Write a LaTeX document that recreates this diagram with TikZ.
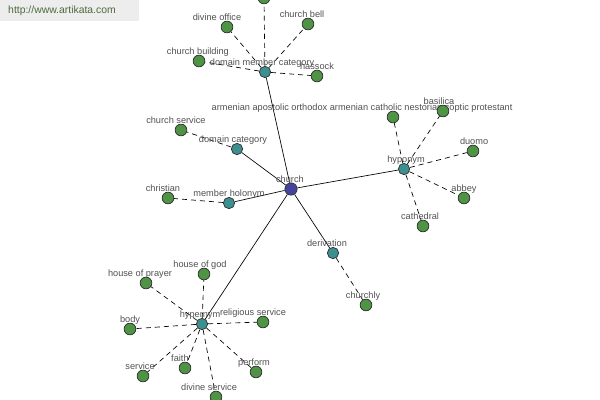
\documentclass[tikz,border=0pt]{standalone}
\usepackage{fontspec}
\setmainfont{Liberation Sans}
\usetikzlibrary{backgrounds}
\definecolor{leafgreen}{HTML}{4E9444}
\definecolor{relteal}{HTML}{3C9090}
\definecolor{hubblue}{HTML}{44449C}
\definecolor{lblgray}{HTML}{505050}
\definecolor{sitegreen}{HTML}{4C6A3C}

\begin{document}
\begin{tikzpicture}[x=0.75pt,y=-0.75pt,
  leaf/.style={circle,draw=black!80,line width=0.55pt,fill=leafgreen,inner sep=0pt,minimum size=8.8pt,label distance=1.2pt},
  rel/.style={leaf,fill=relteal,minimum size=8.5pt},
  hub/.style={leaf,fill=hubblue,minimum size=9.2pt},
  lbl/.style={text=lblgray,font=\fontsize{6.9}{8}\selectfont,inner sep=0pt,text depth=0pt},
  link/.style={draw=black,line width=0.5pt},
  sub/.style={link,dash pattern=on 3.8pt off 3pt}]
\useasboundingbox (0,0) rectangle (600,400);
\fill[black!7] (0,0) rectangle (139,21);
\node[text=sitegreen,font=\fontsize{7.8}{9}\selectfont,inner sep=0pt] (site) at (62,11) {http://www.artikata.com};

\node[hub,label={[lbl,xshift=-0.8]above:church}] (church) at (291,189) {};

\node[rel,label={[lbl,xshift=-2.2]above:domain member category}] (dommem) at (265,72) {};
\node[leaf] (topleaf) at (264,-2) {};
\node[leaf,label={[lbl,xshift=-7.5]above:divine office}] (divoffice) at (227,27) {};
\node[leaf,label={[lbl,xshift=-4.5]above:church bell}] (bell) at (308,24) {};
\node[leaf,label={[lbl,xshift=-0.8]above:church building}] (building) at (199,61) {};
\node[leaf,label={[lbl]above:hassock}] (hassock) at (317,76) {};

\node[rel,label={[lbl,xshift=-3]above:domain category}] (domcat) at (237,149) {};
\node[leaf,label={[lbl,xshift=-3.8]above:church service}] (chservice) at (181,130) {};

\node[rel,label={[lbl]above:member holonym}] (holonym) at (229,203) {};
\node[leaf,label={[lbl,xshift=-3.8]above:christian}] (christian) at (168,198) {};

\node[rel,label={[lbl,xshift=1.5]above:hyponym}] (hyponym) at (404,169) {};
\node[leaf,label={[lbl,xshift=-23.2]above:armenian apostolic orthodox armenian catholic nestorian coptic protestant}] (armenian) at (393,117) {};
\node[leaf,label={[lbl,xshift=-3]above:basilica}] (basilica) at (443,111) {};
\node[leaf,label={[lbl,xshift=0.8]above:duomo}] (duomo) at (473,151) {};
\node[leaf,label={[lbl]above:abbey}] (abbey) at (464,198) {};
\node[leaf,label={[lbl,xshift=-2.2]above:cathedral}] (cathedral) at (423,226) {};

\node[rel,label={[lbl,xshift=-4.5]above:derivation}] (derivation) at (333,253) {};
\node[leaf,label={[lbl,xshift=-2.2]above:churchly}] (churchly) at (366,305) {};

\node[rel,label={[lbl,xshift=-1.5]above:hypernym}] (hypernym) at (202,324) {};
\node[leaf,label={[lbl,xshift=-3]above:house of god}] (godhouse) at (204,274) {};
\node[leaf,label={[lbl,xshift=-4.5]above:house of prayer}] (prayer) at (146,283) {};
\node[leaf,label={[lbl]above:body}] (body) at (130,329) {};
\node[leaf,label={[lbl,xshift=-7.5]above:religious service}] (relservice) at (263,322) {};
\node[leaf,label={[lbl,xshift=-2.2]above:service}] (service) at (143,376) {};
\node[leaf,label={[lbl,xshift=-3.8]above:faith}] (faith) at (185,368) {};
\node[leaf,label={[lbl,xshift=-1.5]above:perform}] (perform) at (256,372) {};
\node[leaf,label={[lbl,xshift=-5.2]above:divine service}] (divservice) at (216,397) {};

\begin{scope}[on background layer]
\draw[link] (church) -- (dommem);
\draw[link] (church) -- (domcat);
\draw[link] (church) -- (holonym);
\draw[link] (church) -- (hyponym);
\draw[link] (church) -- (derivation);
\draw[link] (church) -- (hypernym);
\foreach \leafname in {topleaf,divoffice,bell,building,hassock}
  \draw[sub] (dommem) -- (\leafname);
\draw[sub] (domcat) -- (chservice);
\draw[sub] (holonym) -- (christian);
\foreach \leafname in {armenian,basilica,duomo,abbey,cathedral}
  \draw[sub] (hyponym) -- (\leafname);
\draw[sub] (derivation) -- (churchly);
\foreach \leafname in {godhouse,prayer,body,relservice,service,faith,perform,divservice}
  \draw[sub] (hypernym) -- (\leafname);
\end{scope}
\end{tikzpicture}
\end{document}
